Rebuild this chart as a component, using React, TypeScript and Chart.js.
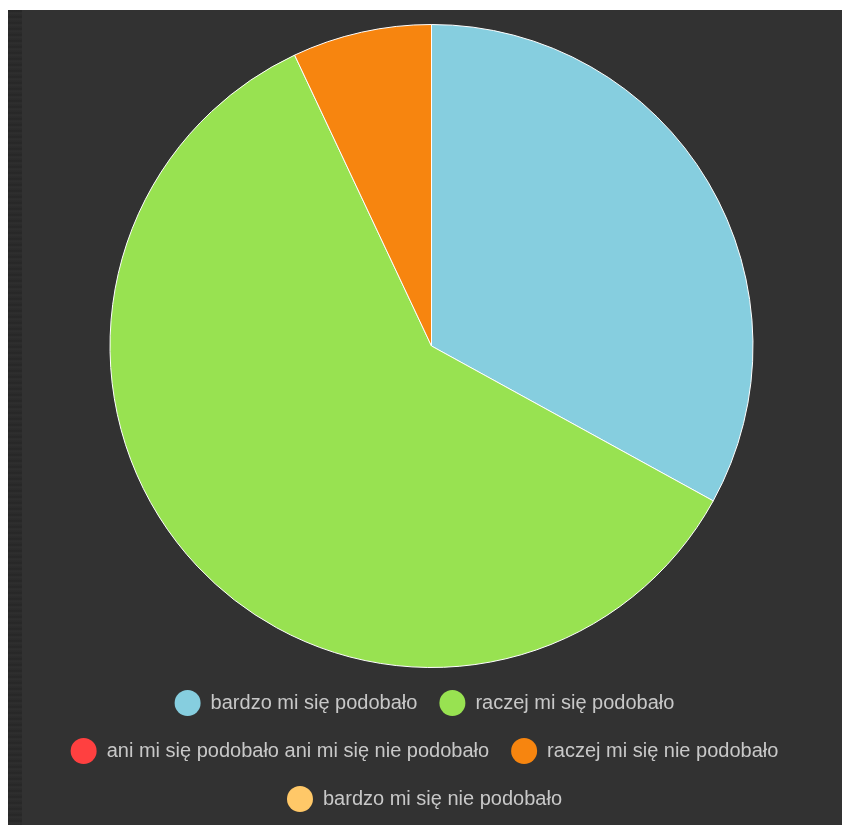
import React, { useEffect, useRef } from "react";
import { Chart, registerables } from "chart.js";

Chart.register(...registerables);

const categories: string[] = [
  "bardzo mi się podobało",
  "raczej mi się podobało",
  "ani mi się podobało ani mi się nie podobało",
  "raczej mi się nie podobało",
  "bardzo mi się nie podobało",
];
const values: number[] = [33, 60, 0, 7, 0];
const colors: string[] = ["#86cedf", "#98e251", "#ff4040", "#f7850f", "#ffc868"];

export default function App() {
  const ref = useRef<HTMLCanvasElement | null>(null);

  useEffect(() => {
    if (!ref.current) return;
    const chart = new Chart(ref.current, {
      type: "pie",
      data: {
        labels: categories,
        datasets: [
          {
            data: values,
            backgroundColor: colors,
            borderColor: "#ffffff",
            borderWidth: 1,
          },
        ],
      },
      options: {
        responsive: false,
        animation: false,
        layout: { padding: { top: 14, bottom: 3, left: 0, right: 0 } },
        plugins: {
          tooltip: { enabled: false },
          title: {
            display: true,
            position: "left",
            text: " ",
            padding: 0,
            font: { size: 10, lineHeight: 1.4 },
          },
          legend: {
            position: "bottom",
            labels: {
              boxWidth: 26,
              boxHeight: 26,
              useBorderRadius: true,
              borderRadius: 13,
              padding: 22,
              color: "#c8c8c8",
              font: { family: "'Liberation Sans', Arial, sans-serif", size: 20 },
              generateLabels: () =>
                categories.map((text, i) => ({
                  text,
                  fillStyle: colors[i],
                  strokeStyle: colors[i],
                  lineWidth: 0,
                  hidden: false,
                  index: i,
                  borderRadius: 13,
                  fontColor: "#c8c8c8",
                })),
            },
          },
        },
      },
    });
    return () => chart.destroy();
  }, []);

  return (
    <div
      style={{
        position: "fixed",
        left: 8,
        top: 10,
        right: 0,
        bottom: 0,
        background: "#323232",
        overflow: "hidden",
      }}
    >
      <div
        style={{
          position: "absolute",
          left: 0,
          top: 0,
          bottom: 0,
          width: 14,
          background:
            "repeating-linear-gradient(0deg, #2a2a2a 0px, #2f2f2f 2px, #262626 4px, #2c2c2c 6px)",
        }}
      />
      <canvas
        ref={ref}
        width={833}
        height={815}
        style={{ position: "absolute", left: 0, top: 0, display: "block" }}
      />
    </div>
  );
}
